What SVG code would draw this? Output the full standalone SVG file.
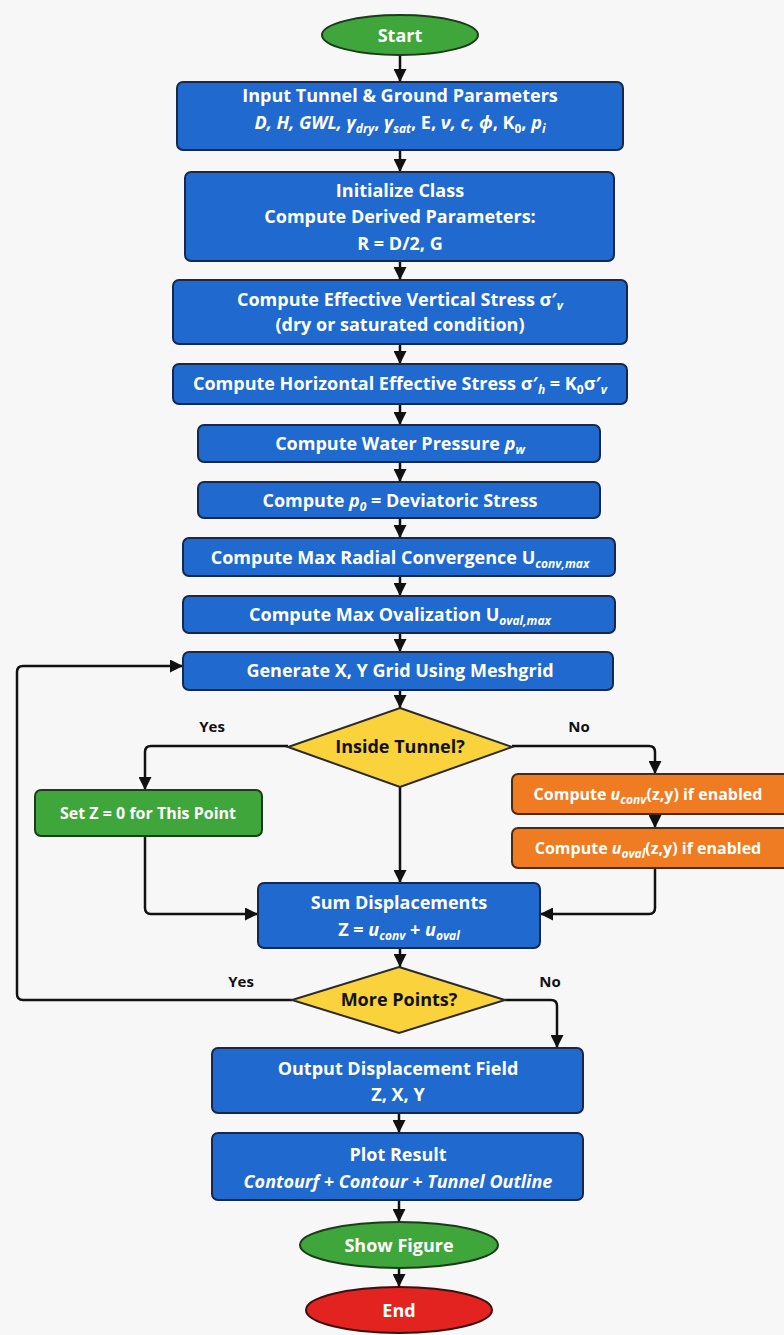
<svg xmlns="http://www.w3.org/2000/svg" width="784" height="1335" viewBox="0 0 784 1335">
<style>
.t{font-family:"Open Sans","Noto Sans","DejaVu Sans",sans-serif;font-weight:700;fill:#fff;text-anchor:middle;font-size:18px}
.s{font-size:16px}
.d{fill:#111}
.lab{font-family:"Open Sans","Noto Sans","DejaVu Sans",sans-serif;font-weight:700;fill:#111;font-size:15px;text-anchor:middle}
.i{font-style:italic}
.sb{font-size:12px}
.blue{fill:#1f69cf;stroke:#17284a;stroke-width:2}
.green{fill:#3fa63b;stroke:#1d3a1d;stroke-width:2}
.orange{fill:#ef7b22;stroke:#4a2a10;stroke-width:2}
.yellow{fill:#f9d23c;stroke:#2a2a2a;stroke-width:2}
.red{fill:#e2231f;stroke:#3a1010;stroke-width:2}
.c{fill:none;stroke:#111;stroke-width:2.5}
</style>
<defs>
<marker id="ah" viewBox="0 0 10 10" refX="10" refY="5" markerWidth="13" markerHeight="13" markerUnits="userSpaceOnUse" orient="auto">
<path d="M0,0 L10,5 L0,10 z" fill="#111"/>
</marker>
</defs>
<rect width="784" height="1335" fill="#f7f7f7"/>

<g id="connectors">
<path class="c" marker-end="url(#ah)" d="M400,55 V82"/>
<path class="c" marker-end="url(#ah)" d="M400,150 V172"/>
<path class="c" marker-end="url(#ah)" d="M400,261 V280"/>
<path class="c" marker-end="url(#ah)" d="M400,344 V364"/>
<path class="c" marker-end="url(#ah)" d="M400,404 V425"/>
<path class="c" marker-end="url(#ah)" d="M400,462 V482"/>
<path class="c" marker-end="url(#ah)" d="M400,518 V538"/>
<path class="c" marker-end="url(#ah)" d="M400,576 V596"/>
<path class="c" marker-end="url(#ah)" d="M400,633 V652"/>
<path class="c" marker-end="url(#ah)" d="M400,690 V708"/>
<path class="c" marker-end="url(#ah)" d="M288,746 H151 Q145,746 145,752 V790"/>
<path class="c" marker-end="url(#ah)" d="M512,746 H649 Q655,746 655,752 V774"/>
<path class="c" marker-end="url(#ah)" d="M655,814 V828"/>
<path class="c" marker-end="url(#ah)" d="M400,787 V883"/>
<path class="c" marker-end="url(#ah)" d="M145,836 V908 Q145,914 151,914 H258"/>
<path class="c" marker-end="url(#ah)" d="M655,868 V908 Q655,914 649,914 H540"/>
<path class="c" marker-end="url(#ah)" d="M400,948 V967"/>
<path class="c" marker-end="url(#ah)" d="M292,1000 H23 Q17,1000 17,994 V672 Q17,666 23,666 H183"/>
<path class="c" marker-end="url(#ah)" d="M505,1000 H551 Q557,1000 557,1006 V1048"/>
<path class="c" marker-end="url(#ah)" d="M399,1113 V1133"/>
<path class="c" marker-end="url(#ah)" d="M399,1200 V1222"/>
<path class="c" marker-end="url(#ah)" d="M399,1268 V1287"/>
<text class="lab" x="212" y="732">Yes</text>
<text class="lab" x="579" y="732">No</text>
<text class="lab" x="241" y="987">Yes</text>
<text class="lab" x="550" y="987">No</text>
</g>

<g id="start">
<ellipse class="green" cx="400" cy="35" rx="78" ry="20"/>
<text class="t" x="400" y="42" font-size="20">Start</text>
</g>

<g id="input">
<rect class="blue" x="177" y="82" width="446" height="68" rx="6"/>
<text class="t" x="400" y="102">Input Tunnel &amp; Ground Parameters</text>
<text class="t" x="400" y="129"><tspan class="i">D, H, GWL, γ</tspan><tspan class="sb i" dy="4">dry</tspan><tspan dy="-4">, </tspan><tspan class="i">γ</tspan><tspan class="sb i" dy="4">sat</tspan><tspan dy="-4">, E, </tspan><tspan class="i">ν, c, ϕ</tspan>, K<tspan class="sb" dy="4">0</tspan><tspan dy="-4">, </tspan><tspan class="i">p</tspan><tspan class="sb i" dy="4">i</tspan></text>
</g>

<g id="init">
<rect class="blue" x="185" y="172" width="429" height="89" rx="6"/>
<text class="t" x="400" y="197">Initialize Class</text>
<text class="t" x="400" y="223">Compute Derived Parameters:</text>
<text class="t" x="400" y="250">R = D/2, G</text>
</g>

<g id="vstress">
<rect class="blue" x="173" y="280" width="454" height="64" rx="6"/>
<text class="t" x="400" y="306">Compute Effective Vertical Stress σ′<tspan class="sb i" dy="4">v</tspan></text>
<text class="t" x="400" y="331">(dry or saturated condition)</text>
</g>

<g id="hstress">
<rect class="blue" x="173" y="364" width="454" height="40" rx="6"/>
<text class="t" x="400" y="390" font-size="17">Compute Horizontal Effective Stress σ′<tspan class="sb i" dy="4">h</tspan><tspan dy="-4"> = K</tspan><tspan class="sb" dy="4">0</tspan><tspan dy="-4">σ′</tspan><tspan class="sb i" dy="4">v</tspan></text>
</g>

<g id="water">
<rect class="blue" x="198" y="425" width="402" height="37" rx="6"/>
<text class="t" x="400" y="450">Compute Water Pressure <tspan class="i">p</tspan><tspan class="sb i" dy="4">w</tspan></text>
</g>

<g id="p0">
<rect class="blue" x="198" y="482" width="402" height="36" rx="6"/>
<text class="t" x="400" y="507">Compute <tspan class="i">p</tspan><tspan class="sb i" dy="4">0</tspan><tspan dy="-4"> = Deviatoric Stress</tspan></text>
</g>

<g id="uconvmax">
<rect class="blue" x="183" y="538" width="432" height="38" rx="6"/>
<text class="t" x="400" y="564">Compute Max Radial Convergence  U<tspan class="sb i" dy="4">conv,max</tspan></text>
</g>

<g id="uovalmax">
<rect class="blue" x="183" y="596" width="432" height="37" rx="6"/>
<text class="t" x="400" y="621">Compute Max Ovalization  U<tspan class="sb i" dy="4">oval,max</tspan></text>
</g>

<g id="grid">
<rect class="blue" x="183" y="652" width="430" height="38" rx="6"/>
<text class="t" x="400" y="677">Generate X, Y Grid Using Meshgrid</text>
</g>

<g id="inside">
<polygon class="yellow" points="400,708 512,747 400,787 288,747"/>
<text class="t d" x="400" y="753" font-size="16">Inside Tunnel?</text>
</g>

<g id="setz">
<rect class="green" x="35" y="790" width="227" height="46" rx="6"/>
<text class="t s" x="148" y="819">Set Z = 0 for This Point</text>
</g>

<g id="uconv">
<rect class="orange" x="512" y="774" width="280" height="40" rx="6"/>
<text class="t s" x="648" y="800">Compute <tspan class="i">u</tspan><tspan class="sb i" dy="4">conv</tspan><tspan dy="-4">(z,y)  if enabled</tspan></text>
</g>

<g id="uoval">
<rect class="orange" x="512" y="828" width="280" height="40" rx="6"/>
<text class="t s" x="648" y="854">Compute <tspan class="i">u</tspan><tspan class="sb i" dy="4">oval</tspan><tspan dy="-4">(z,y)  if enabled</tspan></text>
</g>

<g id="sum">
<rect class="blue" x="258" y="883" width="282" height="65" rx="6"/>
<text class="t" x="399" y="909">Sum Displacements</text>
<text class="t" x="399" y="936">Z = <tspan class="i">u</tspan><tspan class="sb i" dy="4">conv</tspan><tspan dy="-4"> + </tspan><tspan class="i">u</tspan><tspan class="sb i" dy="4">oval</tspan></text>
</g>

<g id="more">
<polygon class="yellow" points="399,967 505,1000 399,1033 292,1000"/>
<text class="t d" x="399" y="1006" font-size="16">More Points?</text>
</g>

<g id="output">
<rect class="blue" x="212" y="1048" width="371" height="65" rx="6"/>
<text class="t" x="398" y="1075">Output Displacement Field</text>
<text class="t" x="398" y="1101">Z, X, Y</text>
</g>

<g id="plot">
<rect class="blue" x="212" y="1133" width="371" height="67" rx="6"/>
<text class="t" x="398" y="1161">Plot Result</text>
<text class="t i" x="398" y="1188" font-size="16">Contourf + Contour + Tunnel Outline</text>
</g>

<g id="show">
<ellipse class="green" cx="399" cy="1245" rx="99" ry="23"/>
<text class="t" x="399" y="1252" font-size="19">Show Figure</text>
</g>

<g id="end">
<ellipse class="red" cx="399" cy="1310" rx="93" ry="23"/>
<text class="t" x="399" y="1317" font-size="20">End</text>
</g>
</svg>
